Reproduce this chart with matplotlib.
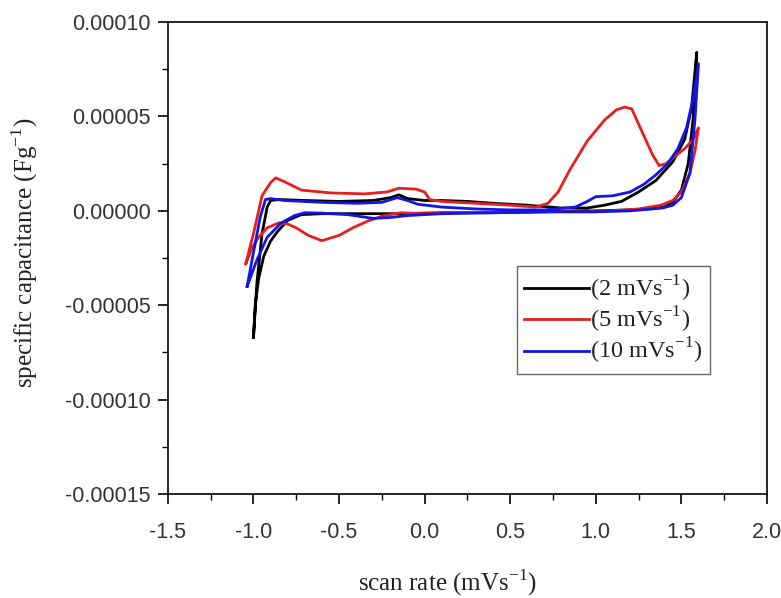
import matplotlib
matplotlib.use('Agg')
import matplotlib.pyplot as plt
from matplotlib.ticker import MultipleLocator, FormatStrFormatter

plt.rcParams['axes.unicode_minus'] = False

# cyclic voltammetry loops, y values in units of 1e-5 (forward sweep then return)
x_2 = [-1.00, -0.98, -0.95, -0.92, -0.90, -0.85, -0.70, -0.50, -0.30, -0.20, -0.15, -0.10,
       0.00, 0.10, 0.25, 0.40, 0.60, 0.80, 0.95, 1.05, 1.15, 1.25, 1.35, 1.45, 1.52, 1.56, 1.59,
       1.57, 1.54, 1.50, 1.45, 1.40, 1.30, 1.20, 1.00, 0.70, 0.40, 0.10, -0.15, -0.40, -0.60,
       -0.72, -0.80, -0.86, -0.90, -0.94, -0.97, -0.99, -1.00]
y_2 = [-6.7, -3.8, -1.2, 0.2, 0.55, 0.6, 0.55, 0.5, 0.55, 0.7, 0.85, 0.65,
       0.55, 0.55, 0.5, 0.4, 0.3, 0.15, 0.15, 0.3, 0.5, 1.0, 1.6, 2.6, 3.8, 5.5, 8.4,
       5.0, 2.5, 1.1, 0.45, 0.2, 0.1, 0.05, 0.0, -0.05, -0.1, -0.1, -0.15, -0.15, -0.15,
       -0.2, -0.5, -1.1, -1.6, -2.4, -3.6, -5.0, -6.7]

x_5 = [-1.045, -1.00, -0.95, -0.90, -0.87, -0.82, -0.72, -0.55, -0.35, -0.22, -0.15, -0.05,
       0.00, 0.03, 0.10, 0.30, 0.50, 0.65, 0.72, 0.78, 0.85, 0.95, 1.05, 1.12, 1.17, 1.21,
       1.27, 1.33, 1.37, 1.41, 1.45, 1.52, 1.57, 1.60,
       1.58, 1.55, 1.50, 1.45, 1.38, 1.25, 1.00, 0.60, 0.20, 0.00, -0.14, -0.24, -0.33,
       -0.42, -0.50, -0.60, -0.68, -0.75, -0.80, -0.85, -0.92, -0.97, -1.01, -1.045]
y_5 = [-2.8, -1.2, 0.8, 1.5, 1.75, 1.55, 1.1, 0.95, 0.9, 1.0, 1.2, 1.15,
       1.0, 0.6, 0.5, 0.4, 0.3, 0.2, 0.4, 1.0, 2.2, 3.7, 4.8, 5.35, 5.5, 5.4,
       4.2, 3.0, 2.4, 2.5, 2.8, 3.3, 3.8, 4.4,
       3.2, 2.0, 1.0, 0.55, 0.3, 0.1, -0.05, -0.05, -0.1, -0.15, -0.1, -0.26, -0.53,
       -0.9, -1.3, -1.58, -1.3, -0.9, -0.7, -0.63, -0.9, -1.4, -2.0, -2.8]

x_10 = [-1.037, -1.00, -0.96, -0.93, -0.90, -0.82, -0.60, -0.40, -0.25, -0.16, -0.10, -0.04,
        0.10, 0.30, 0.50, 0.70, 0.88, 0.95, 1.00, 1.10, 1.20, 1.28, 1.35, 1.42, 1.48, 1.53,
        1.57, 1.60,
        1.58, 1.55, 1.50, 1.45, 1.39, 1.20, 1.00, 0.70, 0.40, 0.10, -0.10, -0.20, -0.30,
        -0.45, -0.60, -0.70, -0.76, -0.84, -0.92, -0.98, -1.037]
y_10 = [-4.0, -2.2, -0.3, 0.6, 0.65, 0.55, 0.45, 0.4, 0.45, 0.7, 0.55, 0.35,
        0.2, 0.1, 0.05, 0.05, 0.2, 0.5, 0.75, 0.8, 1.0, 1.4, 1.9, 2.5, 3.3, 4.4,
        6.0, 7.8,
        4.9, 2.0, 0.7, 0.3, 0.15, 0.0, -0.05, -0.05, -0.1, -0.15, -0.25, -0.35, -0.4,
        -0.2, -0.12, -0.1, -0.25, -0.65, -1.4, -2.6, -4.0]

sup = r'$^{\mathregular{-1}}$'
series = [
    (x_2, y_2, 'black', '(2 mVs' + sup + ')'),
    (x_5, y_5, '#e61e1e', '(5 mVs' + sup + ')'),
    (x_10, y_10, '#1414e6', '(10 mVs' + sup + ')'),
]

fig = plt.figure(figsize=(7.81, 5.98), dpi=100)
ax = fig.add_axes([0.215, 0.174, 0.767, 0.789])

for xs, ys, col, lab in series:
    ax.plot(xs, [v * 1e-5 for v in ys], color=col, linewidth=2, label=lab)

ax.set_xlim(-1.5, 2.0)
ax.set_ylim(-0.00015, 0.0001)
ax.xaxis.set_major_locator(MultipleLocator(0.5))
ax.xaxis.set_minor_locator(MultipleLocator(0.25))
ax.yaxis.set_major_locator(MultipleLocator(0.00005))
ax.yaxis.set_minor_locator(MultipleLocator(0.000025))
ax.xaxis.set_major_formatter(FormatStrFormatter('%.1f'))
ax.yaxis.set_major_formatter(FormatStrFormatter('%.5f'))
ax.tick_params(which='major', direction='out', length=7, width=1.2, labelsize=15.5,
               labelcolor='#333333', top=False, right=False)
ax.tick_params(which='minor', direction='out', length=4, width=1.0, top=False, right=False)
for lbl in ax.get_xticklabels() + ax.get_yticklabels():
    lbl.set_family('Liberation Sans')
ax.tick_params(axis='x', pad=13)
ax.tick_params(axis='y', pad=5.5)
for sp in ax.spines.values():
    sp.set_linewidth(1.2)

ax.set_xlabel('scan rate (mVs' + sup + ')', family='Liberation Serif', fontsize=18,
              color='#222222')
ax.set_ylabel('specific capacitance (Fg' + sup + ')', family='Liberation Serif', fontsize=18,
              color='#222222')
ax.xaxis.set_label_coords(0.466, -0.155)
ax.yaxis.set_label_coords(-0.214, 0.51)

leg = ax.legend(loc='upper left', bbox_to_anchor=(0.583, 0.483), fancybox=False,
                edgecolor='#666666', framealpha=1, handlelength=2.65, handletextpad=0.05,
                borderpad=0.3, labelspacing=0.05, borderaxespad=0,
                prop={'family': 'Liberation Serif', 'size': 17.5})
leg.get_frame().set_linewidth(1.0)
for t in leg.get_texts():
    t.set_color('#222222')

plt.savefig('out.png', dpi=100)
